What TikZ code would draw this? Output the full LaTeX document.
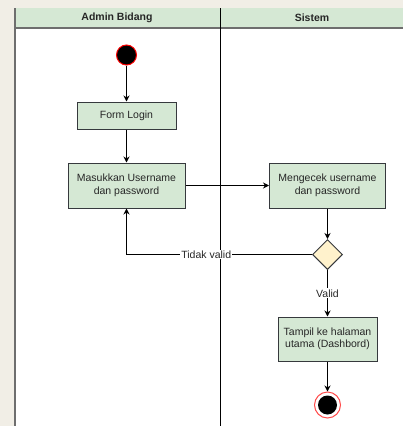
\documentclass[tikz,border=0pt]{standalone}
\usepackage{fontspec}
\setmainfont{Liberation Sans}
\usetikzlibrary{arrows.meta,shapes.geometric}

\definecolor{actgreen}{HTML}{D5E8D4}
\definecolor{decyellow}{HTML}{FFF2CC}
\definecolor{edgegray}{HTML}{36393D}
\definecolor{pagebeige}{HTML}{F1EEE6}
\definecolor{lanegray}{HTML}{6E6E6E}

\begin{document}
\begin{tikzpicture}[x=1pt, y=-1pt, line width=1pt,
  every node/.style={font=\fontsize{10.5}{12.5}\selectfont, text=black!85},
  act/.style={draw=edgegray, fill=actgreen, align=center, inner sep=0pt},
  dec/.style={diamond, aspect=1, draw=edgegray, fill=decyellow, minimum size=30pt, inner sep=0pt},
  flow/.style={draw=black, -{Stealth[length=6pt,width=6pt]}},
  lbl/.style={fill=white, inner sep=1pt},
  head/.style={font=\bfseries\fontsize{10.5}{12.5}\selectfont}]

% page and lanes
\useasboundingbox (0,0) rectangle (403,426);
\fill[pagebeige] (0,0) rectangle (403,426);
\fill[white] (15,8) rectangle (403,426);
\fill[actgreen] (15,8) rectangle (403,28);
\draw[lanegray, line width=2pt] (15,8) -- (15,426);
\draw[lanegray, line width=2pt] (15,28) -- (403,28);
\draw[black] (220.5,8) -- (220.5,426);
\node[head] (laneA) at (117,18) {Admin Bidang};
\node[head] (laneB) at (312,18) {Sistem};

% activities
\node[circle, draw=red, fill=black, minimum size=20pt, inner sep=0pt] (start) at (126.5,55) {};
\node[act, minimum width=99pt, minimum height=27pt] (form) at (126.5,115.5) {Form Login};
\node[act, minimum width=117pt, minimum height=45pt] (input) at (126.5,185.5) {Masukkan Username\\dan password};
\node[act, minimum width=116pt, minimum height=45pt] (check) at (327.5,185.5) {Mengecek username\\dan password};
\node[dec] (valid) at (327.5,254.5) {};
\node[act, minimum width=99pt, minimum height=44pt] (home) at (327.5,339) {Tampil ke halaman\\utama (Dashbord)};
\node[circle, draw=red!70, fill=white, minimum size=26pt, inner sep=0pt] (stop) at (327.5,405) {};
\node[circle, fill=black, minimum size=19pt, inner sep=0pt] (stopdot) at (stop) {};

% connectors
\draw[flow] (start) -- (form);
\draw[flow] (form) -- (input);
\draw[flow] (input) -- (check);
\draw[flow] (check) -- (valid);
\draw[flow] (valid.west) -- node[lbl, pos=0.57] {Tidak valid} (valid.west -| input.south) -- (input.south);
\draw[flow] (valid) -- node[lbl, pos=0.5] {Valid} (home);
\draw[flow] (home) -- (stop);

\end{tikzpicture}
\end{document}
